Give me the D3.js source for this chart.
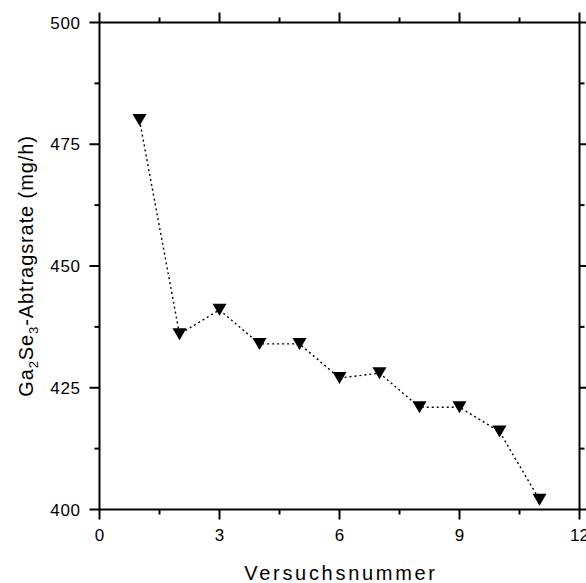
<!DOCTYPE html>
<html>
<head>
<meta charset="utf-8">
<script src="https://cdn.jsdelivr.net/npm/d3@7"></script>
<style>
  body { margin: 0; background: #fff; }
  svg { display: block; font-family: "Liberation Sans", Arial, sans-serif; }
</style>
</head>
<body>
<svg id="chart" width="586" height="583"></svg>
<script>
// data
var runs = [1, 2, 3, 4, 5, 6, 7, 8, 9, 10, 11];
var rates = [480, 436, 441, 434, 434, 427, 428, 421, 421, 416, 402];
var xTicks = [0, 3, 6, 9, 12];
var xMinor = [1.5, 4.5, 7.5, 10.5];
var yTicks = [400, 425, 450, 475, 500];
var yMinor = [412.5, 437.5, 462.5, 487.5];

var svg = d3.select("#chart");

// plot frame
var plotLeft = 99.5, plotRight = 579.5, plotTop = 22.5, plotBottom = 509.5;

var x = d3.scaleLinear().domain([0, 12]).range([plotLeft, plotRight]);
var y = d3.scaleLinear().domain([400, 500]).range([plotBottom, plotTop]);

// frame box
svg.append("rect")
  .attr("x", plotLeft).attr("y", plotTop)
  .attr("width", plotRight - plotLeft).attr("height", plotBottom - plotTop)
  .attr("fill", "none").attr("stroke", "#000").attr("stroke-width", 2);

// bottom axis
var gB = svg.append("g").attr("transform", "translate(0," + plotBottom + ")");
gB.selectAll(".maj").data(xTicks).enter().append("line")
  .attr("x1", d => x(d)).attr("x2", d => x(d)).attr("y1", 0).attr("y2", 10)
  .attr("stroke", "#000").attr("stroke-width", 2);
gB.selectAll(".min").data(xMinor).enter().append("line")
  .attr("x1", d => x(d)).attr("x2", d => x(d)).attr("y1", 0).attr("y2", 5)
  .attr("stroke", "#000").attr("stroke-width", 2);
gB.selectAll("text").data(xTicks).enter().append("text")
  .attr("x", d => x(d)).attr("y", 31)
  .attr("text-anchor", "middle").attr("font-size", 17)
  .text(d => d);

// top axis (ticks only)
var gT = svg.append("g").attr("transform", "translate(0," + plotTop + ")");
gT.selectAll(".maj").data(xTicks).enter().append("line")
  .attr("x1", d => x(d)).attr("x2", d => x(d)).attr("y1", 0).attr("y2", -10)
  .attr("stroke", "#000").attr("stroke-width", 2);
gT.selectAll(".min").data(xMinor).enter().append("line")
  .attr("x1", d => x(d)).attr("x2", d => x(d)).attr("y1", 0).attr("y2", -5)
  .attr("stroke", "#000").attr("stroke-width", 2);

// left axis
var gL = svg.append("g").attr("transform", "translate(" + plotLeft + ",0)");
gL.selectAll(".maj").data(yTicks).enter().append("line")
  .attr("y1", d => y(d)).attr("y2", d => y(d)).attr("x1", 0).attr("x2", -10)
  .attr("stroke", "#000").attr("stroke-width", 2);
gL.selectAll(".min").data(yMinor).enter().append("line")
  .attr("y1", d => y(d)).attr("y2", d => y(d)).attr("x1", 0).attr("x2", -5)
  .attr("stroke", "#000").attr("stroke-width", 2);
gL.selectAll("text").data(yTicks).enter().append("text")
  .attr("x", -19).attr("y", d => y(d) + 6)
  .attr("text-anchor", "end").attr("font-size", 17)
  .attr("letter-spacing", 0.6)
  .text(d => d);

// right axis (ticks only)
var gR = svg.append("g").attr("transform", "translate(" + plotRight + ",0)");
gR.selectAll(".maj").data(yTicks).enter().append("line")
  .attr("y1", d => y(d)).attr("y2", d => y(d)).attr("x1", 0).attr("x2", 10)
  .attr("stroke", "#000").attr("stroke-width", 2);
gR.selectAll(".min").data(yMinor).enter().append("line")
  .attr("y1", d => y(d)).attr("y2", d => y(d)).attr("x1", 0).attr("x2", 5)
  .attr("stroke", "#000").attr("stroke-width", 2);

// dotted connecting line
var pts = runs.map((r, i) => [r, rates[i]]);
svg.append("path")
  .datum(pts)
  .attr("d", d3.line().x(d => x(d[0])).y(d => y(d[1])))
  .attr("fill", "none").attr("stroke", "#000")
  .attr("stroke-width", 1.4).attr("stroke-dasharray", "2,3");

// down-pointing triangle markers
svg.selectAll(".mark").data(pts).enter().append("path")
  .attr("class", "mark")
  .attr("transform", d => "translate(" + x(d[0]) + "," + y(d[1]) + ")")
  .attr("d", "M-7,-6L7,-6L0,6Z")
  .attr("fill", "#000");

// axis titles
svg.append("text")
  .attr("x", 341).attr("y", 580)
  .attr("text-anchor", "middle").attr("font-size", 20)
  .attr("letter-spacing", 2.7)
  .text("Versuchsnummer");

var yt = svg.append("text")
  .attr("transform", "translate(33,266) rotate(-90)")
  .attr("text-anchor", "middle").attr("font-size", 20)
  .attr("letter-spacing", 0.9);
yt.append("tspan").text("Ga");
yt.append("tspan").attr("font-size", 13).attr("dy", 5).text("2");
yt.append("tspan").attr("dy", -5).text("Se");
yt.append("tspan").attr("font-size", 13).attr("dy", 5).text("3");
yt.append("tspan").attr("dy", -5).text("-Abtragsrate (mg/h)");
</script>
</body>
</html>
